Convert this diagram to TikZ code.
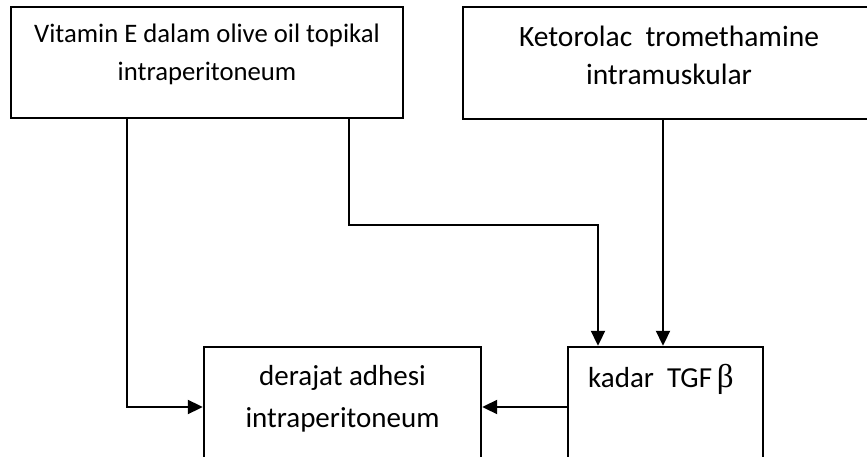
\documentclass[tikz,border=0pt]{standalone}
\usepackage{fontspec}
\setmainfont{Carlito}
\newfontfamily\grkfont{Liberation Serif}
\usetikzlibrary{arrows.meta}
\begin{document}
\begin{tikzpicture}[x=1pt,y=-1pt,
  boxstyle/.style={draw=black,line width=2.4pt,rectangle,inner sep=0pt},
  txt/.style={inner sep=0pt,anchor=base},
  conn/.style={line width=2pt},
  arr/.style={conn,-{Triangle[length=15pt,width=14pt]}}]
\useasboundingbox (0,0) rectangle (867,457);
\clip (0,0) rectangle (867,457);
% boxes
\node[boxstyle,minimum width=392pt,minimum height=111pt] (b1) at (207,62.5) {};
\node[boxstyle,minimum width=412pt,minimum height=112pt] (b2) at (669,63) {};
\node[boxstyle,minimum width=277pt,minimum height=133pt] (dj) at (342.5,413.5) {};
\node[boxstyle,minimum width=195pt,minimum height=133pt] (tgf) at (665.5,413.5) {};
% texts
\node[txt,font=\fontsize{26.7}{30}\selectfont] (t1a) at (207,43) {Vitamin E dalam olive oil topikal};
\node[txt,font=\fontsize{26.7}{30}\selectfont] (t1b) at (207,81) {intraperitoneum};
\node[txt,font=\fontsize{29.5}{34}\selectfont] (t2a) at (669,47) {Ketorolac\ \ tromethamine};
\node[txt,font=\fontsize{29.5}{34}\selectfont] (t2b) at (669,85) {intramuskular};
\node[txt,font=\fontsize{29}{34}\selectfont] (t3a) at (342.5,385) {derajat adhesi};
\node[txt,font=\fontsize{29}{34}\selectfont] (t3b) at (342.5,427) {intraperitoneum};
\node[txt,font=\fontsize{29}{34}\selectfont,anchor=base west] (t4) at (588,387) {kadar\ \ TGF\,{\grkfont\fontsize{33}{36}\selectfont β}};
% connectors
\coordinate (c1) at (127,407);
\draw[arr] (b1.south -| 127,0) -- (c1) -- (dj.west |- c1);
\coordinate (c2) at (349,225);
\coordinate (c3) at (598,225);
\draw[arr] (b1.south -| c2) -- (c2) -- (c3) -- (tgf.north -| c3);
\draw[arr] (b2.south -| 663,0) -- (tgf.north -| 663,0);
\draw[arr] (tgf.west |- c1) -- (dj.east |- c1);
\end{tikzpicture}
\end{document}
